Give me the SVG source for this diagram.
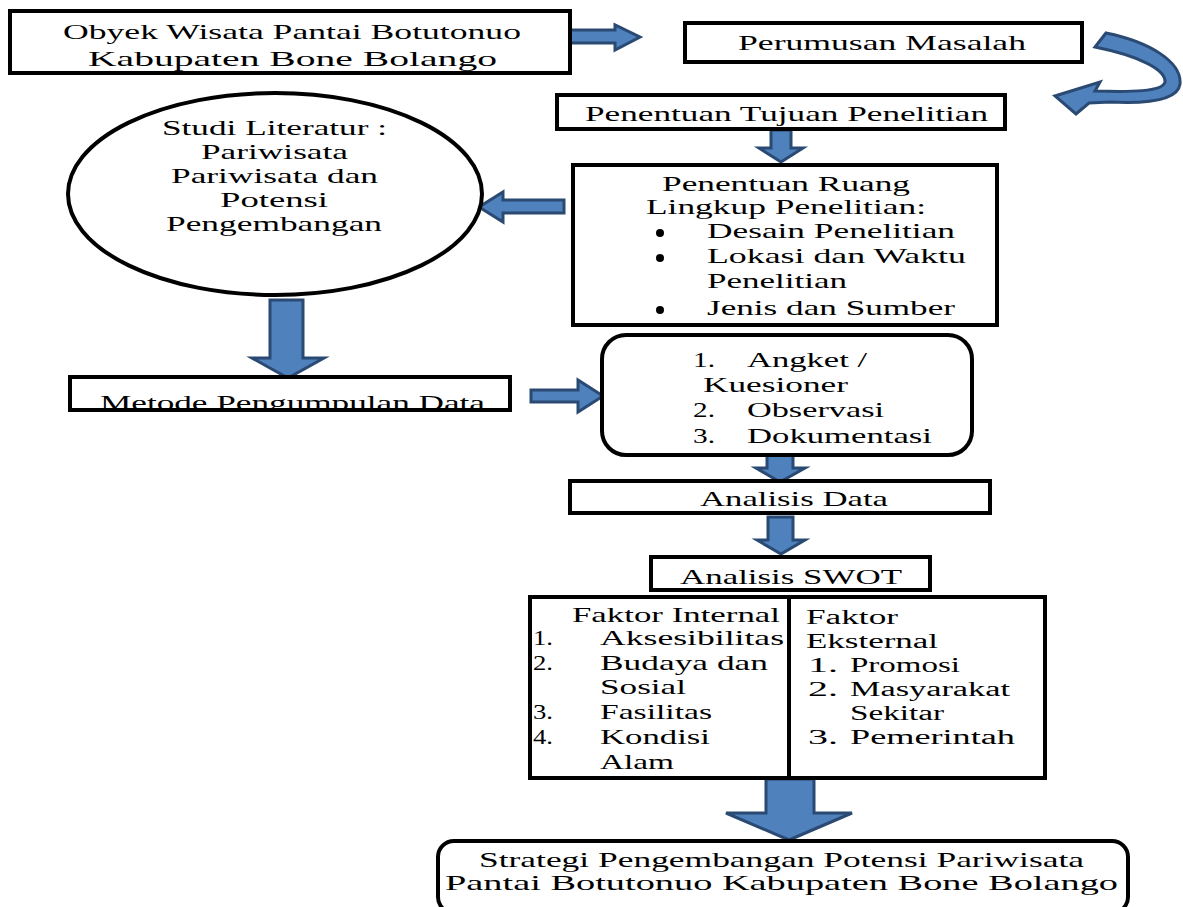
<svg xmlns="http://www.w3.org/2000/svg" width="1183" height="907" viewBox="0 0 1183 907" font-family="'Liberation Serif', 'Times New Roman', serif">
<style>
text{font-family:"Liberation Serif","Times New Roman",serif;font-size:22px;fill:#000}
.sm{font-size:20px}
.md{font-size:21px}
.box{fill:#fff;stroke:#000;stroke-width:4}
.arr{fill:#4f81bd;stroke:#2a4a73;stroke-width:3;stroke-linejoin:miter}
</style>
<defs>
<clipPath id="clipMetode"><rect x="70" y="377" width="440" height="31"/></clipPath>
</defs>
<rect width="1183" height="907" fill="#fff"/>

<g id="connectors">
<polygon class="arr" points="570,30 615,30 615,25 640,37 615,50 615,43 570,43"/>
<path class="arr" d="M1106,33 C1150,42 1182,62 1180,84 C1178,100 1150,104 1110,102 L1089,103 L1076,114 L1055,96 L1100,82 L1095,91 C1130,92 1163,92 1165,82 C1166,70 1140,56 1095,47 Z"/>
<polygon class="arr" points="771,130 791,130 791,148 803,148 781,162 759,148 771,148"/>
<polygon class="arr" points="564,200 503,200 503,192 479,207 503,222 503,213 564,213"/>
<polygon class="arr" points="270,300 303,300 303,358 324,358 288,378 252,358 270,358"/>
<polygon class="arr" points="531,390 578,390 578,380 603,396 578,412 578,402 531,402"/>
<polygon class="arr" points="767,455 793,455 793,468 805,468 780,482 756,468 767,468"/>
<polygon class="arr" points="768,517 793,517 793,540 805,540 781,554 757,540 768,540"/>
<polygon class="arr" points="766,779 814,779 814,813 852,813 789,840 726,813 766,813"/>
</g>

<g id="node-obyek">
<rect class="box" x="10" y="11" width="560" height="62"/>
<text x="63" y="39" textLength="458" lengthAdjust="spacingAndGlyphs">Obyek Wisata Pantai Botutonuo</text>
<text x="88" y="66" textLength="409" lengthAdjust="spacingAndGlyphs">Kabupaten Bone Bolango</text>
</g>

<g id="node-perumusan">
<rect class="box" x="685" y="23" width="397" height="39"/>
<text x="738" y="50" textLength="288" lengthAdjust="spacingAndGlyphs">Perumusan Masalah</text>
</g>

<g id="node-tujuan">
<rect class="box" x="557" y="95" width="448" height="34"/>
<text x="585" y="121" textLength="403" lengthAdjust="spacingAndGlyphs">Penentuan Tujuan Penelitian</text>
</g>

<g id="node-studi">
<ellipse cx="275" cy="194" rx="207" ry="101" fill="#fff" stroke="#000" stroke-width="4"/>
<text class="md" x="162" y="135" textLength="225" lengthAdjust="spacingAndGlyphs">Studi Literatur :</text>
<text class="md" x="201" y="159" textLength="147" lengthAdjust="spacingAndGlyphs">Pariwisata</text>
<text class="md" x="171" y="183" textLength="207" lengthAdjust="spacingAndGlyphs">Pariwisata dan</text>
<text class="md" x="220" y="207" textLength="108" lengthAdjust="spacingAndGlyphs">Potensi</text>
<text class="md" x="166" y="231" textLength="216" lengthAdjust="spacingAndGlyphs">Pengembangan</text>
</g>

<g id="node-ruang">
<rect class="box" x="573" y="165" width="424" height="160"/>
<text class="md" x="662" y="191" textLength="248" lengthAdjust="spacingAndGlyphs">Penentuan Ruang</text>
<text class="md" x="646" y="214" textLength="280" lengthAdjust="spacingAndGlyphs">Lingkup Penelitian:</text>
<circle cx="660" cy="233" r="4"/>
<text class="md" x="707" y="238" textLength="248" lengthAdjust="spacingAndGlyphs">Desain Penelitian</text>
<circle cx="660" cy="258" r="4"/>
<text class="md" x="707" y="263" textLength="259" lengthAdjust="spacingAndGlyphs">Lokasi dan Waktu</text>
<text class="md" x="707" y="288" textLength="140" lengthAdjust="spacingAndGlyphs">Penelitian</text>
<circle cx="660" cy="310" r="4"/>
<text class="md" x="707" y="315" textLength="248" lengthAdjust="spacingAndGlyphs">Jenis dan Sumber</text>
</g>

<g id="node-metode">
<rect class="box" x="70" y="377" width="440" height="33"/>
<g clip-path="url(#clipMetode)">
<text x="100" y="410" textLength="385" lengthAdjust="spacingAndGlyphs">Metode Pengumpulan Data</text>
</g>
</g>

<g id="node-instrumen">
<rect class="box" x="602" y="335" width="370" height="120" rx="24" ry="24"/>
<text x="693" y="367" textLength="22" lengthAdjust="spacingAndGlyphs">1.</text>
<text x="747" y="367" textLength="120" lengthAdjust="spacingAndGlyphs">Angket /</text>
<text x="703" y="392" textLength="145" lengthAdjust="spacingAndGlyphs">Kuesioner</text>
<text x="693" y="417" textLength="22" lengthAdjust="spacingAndGlyphs">2.</text>
<text x="747" y="417" textLength="137" lengthAdjust="spacingAndGlyphs">Observasi</text>
<text x="693" y="443" textLength="22" lengthAdjust="spacingAndGlyphs">3.</text>
<text x="747" y="443" textLength="185" lengthAdjust="spacingAndGlyphs">Dokumentasi</text>
</g>

<g id="node-analisis-data">
<rect class="box" x="570" y="481" width="420" height="32"/>
<text x="700" y="506" textLength="188" lengthAdjust="spacingAndGlyphs">Analisis Data</text>
</g>

<g id="node-swot">
<rect class="box" x="651" y="557" width="279" height="33"/>
<text x="680" y="584" textLength="222" lengthAdjust="spacingAndGlyphs">Analisis SWOT</text>
</g>

<g id="node-internal">
<rect class="box" x="530" y="597" width="259" height="181"/>
<text x="572" y="622" textLength="208" lengthAdjust="spacingAndGlyphs">Faktor Internal</text>
<text x="533" y="645" textLength="20" lengthAdjust="spacingAndGlyphs">1.</text>
<text x="600" y="645" textLength="184" lengthAdjust="spacingAndGlyphs">Aksesibilitas</text>
<text x="533" y="670" textLength="20" lengthAdjust="spacingAndGlyphs">2.</text>
<text x="600" y="670" textLength="168" lengthAdjust="spacingAndGlyphs">Budaya dan</text>
<text x="600" y="694" textLength="86" lengthAdjust="spacingAndGlyphs">Sosial</text>
<text x="533" y="719" textLength="20" lengthAdjust="spacingAndGlyphs">3.</text>
<text x="600" y="719" textLength="112" lengthAdjust="spacingAndGlyphs">Fasilitas</text>
<text x="533" y="744" textLength="20" lengthAdjust="spacingAndGlyphs">4.</text>
<text x="600" y="744" textLength="110" lengthAdjust="spacingAndGlyphs">Kondisi</text>
<text x="600" y="769" textLength="74" lengthAdjust="spacingAndGlyphs">Alam</text>
</g>

<g id="node-eksternal">
<rect class="box" x="789" y="597" width="256" height="181"/>
<text class="sm" x="806" y="624" textLength="92" lengthAdjust="spacingAndGlyphs">Faktor</text>
<text class="sm" x="806" y="648" textLength="132" lengthAdjust="spacingAndGlyphs">Eksternal</text>
<text class="sm" x="808" y="672" textLength="30" lengthAdjust="spacingAndGlyphs">1.</text>
<text class="sm" x="850" y="672" textLength="110" lengthAdjust="spacingAndGlyphs">Promosi</text>
<text class="sm" x="808" y="696" textLength="30" lengthAdjust="spacingAndGlyphs">2.</text>
<text class="sm" x="850" y="696" textLength="160" lengthAdjust="spacingAndGlyphs">Masyarakat</text>
<text class="sm" x="850" y="720" textLength="94" lengthAdjust="spacingAndGlyphs">Sekitar</text>
<text class="sm" x="808" y="744" textLength="30" lengthAdjust="spacingAndGlyphs">3.</text>
<text class="sm" x="850" y="744" textLength="165" lengthAdjust="spacingAndGlyphs">Pemerintah</text>
</g>

<g id="node-strategi">
<rect class="box" x="438" y="841" width="690" height="72" rx="16" ry="16"/>
<text x="479" y="867" textLength="605" lengthAdjust="spacingAndGlyphs">Strategi Pengembangan Potensi Pariwisata</text>
<text x="445" y="890" textLength="673" lengthAdjust="spacingAndGlyphs">Pantai Botutonuo Kabupaten Bone Bolango</text>
</g>
</svg>
